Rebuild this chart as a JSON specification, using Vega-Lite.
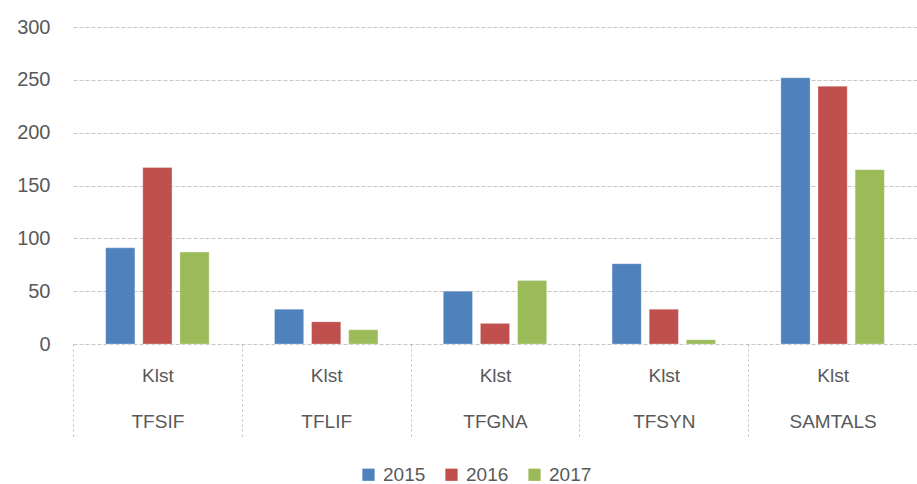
{
  "$schema": "https://vega.github.io/schema/vega-lite/v6.json",
  "width": 844,
  "height": 317,
  "autosize": {"type": "none"},
  "padding": {"left": 73, "top": 27, "right": 0, "bottom": 140},
  "background": "white",
  "config": {
    "view": {"stroke": null},
    "font": "Liberation Sans"
  },
  "data": {
    "values": [
      {"cat": "TFSIF", "year": "2015", "value": 91},
      {"cat": "TFSIF", "year": "2016", "value": 167},
      {"cat": "TFSIF", "year": "2017", "value": 87},
      {"cat": "TFLIF", "year": "2015", "value": 33},
      {"cat": "TFLIF", "year": "2016", "value": 21},
      {"cat": "TFLIF", "year": "2017", "value": 13.5},
      {"cat": "TFGNA", "year": "2015", "value": 50},
      {"cat": "TFGNA", "year": "2016", "value": 19.5},
      {"cat": "TFGNA", "year": "2017", "value": 60},
      {"cat": "TFSYN", "year": "2015", "value": 76},
      {"cat": "TFSYN", "year": "2016", "value": 33},
      {"cat": "TFSYN", "year": "2017", "value": 4},
      {"cat": "SAMTALS", "year": "2015", "value": 252},
      {"cat": "SAMTALS", "year": "2016", "value": 244},
      {"cat": "SAMTALS", "year": "2017", "value": 165}
    ]
  },
  "mark": {"type": "bar", "stroke": "white", "strokeWidth": 0.5, "strokeOpacity": 0.6},
  "encoding": {
    "x": {
      "field": "cat",
      "type": "nominal",
      "sort": ["TFSIF", "TFLIF", "TFGNA", "TFSYN", "SAMTALS"],
      "scale": {"paddingInner": 0, "paddingOuter": 0},
      "axis": {
        "title": null,
        "domain": false,
        "labelAngle": 0,
        "tickBand": "extent",
        "tickSize": 94,
        "tickColor": "#bdbdbd",
        "tickDash": [2, 3],
        "tickWidth": 1,
        "labelPadding": -72,
        "labelBaseline": "top",
        "labelLineHeight": 46,
        "labelFontSize": 19,
        "labelColor": "#595959",
        "labelExpr": "datum.label ? ['Klst', datum.label] : ''"
      }
    },
    "xOffset": {
      "field": "year",
      "type": "nominal",
      "scale": {"paddingInner": 0.213, "paddingOuter": 0.88}
    },
    "y": {
      "field": "value",
      "type": "quantitative",
      "scale": {"domain": [0, 300]},
      "axis": {
        "title": null,
        "values": [0, 50, 100, 150, 200, 250, 300],
        "domain": false,
        "ticks": false,
        "tickSize": 0,
        "labelPadding": 23,
        "labelFontSize": 20,
        "labelColor": "#595959",
        "gridColor": "#c6c6c6",
        "gridDash": [4, 2],
        "gridWidth": 1
      }
    },
    "color": {
      "field": "year",
      "type": "nominal",
      "scale": {"domain": ["2015", "2016", "2017"], "range": ["#4f81bd", "#c0504d", "#9bbb59"]},
      "legend": {
        "title": null,
        "orient": "none",
        "direction": "horizontal",
        "legendX": 286,
        "legendY": 438,
        "symbolType": "square",
        "symbolSize": 150,
        "symbolStrokeWidth": 0,
        "labelFontSize": 19,
        "labelColor": "#595959",
        "labelOffset": 5,
        "columnPadding": 16
      }
    }
  }
}
